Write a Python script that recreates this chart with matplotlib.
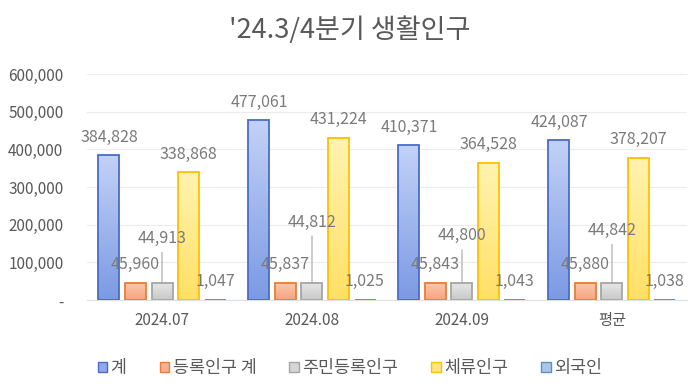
import matplotlib
matplotlib.use("Agg")
import matplotlib.pyplot as plt
import numpy as np
from matplotlib.colors import LinearSegmentedColormap
from matplotlib.patches import Patch

plt.rcParams['font.family'] = ['Noto Sans CJK KR', 'DejaVu Sans']

title = "'24.3/4분기 생활인구"
categories = ["2024.07", "2024.08", "2024.09", "평균"]
series_names = ["계", "등록인구 계", "주민등록인구", "체류인구", "외국인"]
total = [384828, 477061, 410371, 424087]
registered = [45960, 45837, 45843, 45880]
resident = [44913, 44812, 44800, 44842]
staying = [338868, 431224, 364528, 378207]
foreigner = [1047, 1025, 1043, 1038]
yticks = [0, 100000, 200000, 300000, 400000, 500000, 600000]
ytick_labels = ["-", "100,000", "200,000", "300,000", "400,000", "500,000", "600,000"]

series = [total, registered, resident, staying, foreigner]
# (top colour, bottom colour, edge colour)
styles = [
    ("#c2d1f6", "#7c9ae4", "#4a6cc4"),
    ("#fcc9b0", "#f6a47e", "#ed7d31"),
    ("#e6e6e6", "#c8c8c8", "#a5a5a5"),
    ("#fff3b0", "#ffe066", "#ffc000"),
    ("#bcd6f0", "#8db8e4", "#5b8fc9"),
]
legend_fill = ["#8fa9ec", "#f8b08e", "#d5d5d5", "#ffe680", "#a8c8ea"]
# lifted labels (points above bar top) for resident series with leader lines
resident_lift_pt = [32, 44, 34, 38]

fig = plt.figure(figsize=(7.0, 3.92), dpi=100)
ax = fig.add_axes([0.1243, 0.2347, 0.8571, 0.5765])

x = np.arange(len(categories))
step = 0.1767
width = 0.14
label_color = "#7a7a7a"

for i, (vals, (ctop, cbot, cedge)) in enumerate(zip(series, styles)):
    off = (i - 2) * step
    cmap = LinearSegmentedColormap.from_list(f"g{i}", [cbot, ctop])
    for j, v in enumerate(vals):
        x0 = x[j] + off - width / 2
        grad = np.linspace(0, 1, 64).reshape(-1, 1)
        ax.imshow(grad, cmap=cmap, origin='lower', aspect='auto',
                  extent=[x0, x0 + width, 0, v], zorder=2, interpolation='bilinear')
    ax.bar(x + off, vals, width=width, facecolor='none', edgecolor=cedge,
           linewidth=1.3, zorder=3)
    for j, v in enumerate(vals):
        xc = x[j] + off
        if i == 2:
            lift = resident_lift_pt[j]
            ax.annotate(f"{v:,}", xy=(xc, v), xytext=(0, lift), textcoords='offset points',
                        ha='center', va='center', fontsize=11.5, color=label_color, zorder=5)
            ax.annotate("", xy=(xc, v), xytext=(0, lift - 10), textcoords='offset points',
                        arrowprops=dict(arrowstyle='-', color='#a6a6a6', lw=0.8,
                                        shrinkA=0, shrinkB=0), zorder=4)
        else:
            ax.annotate(f"{v:,}", xy=(xc, v), xytext=(0, 13), textcoords='offset points',
                        ha='center', va='center', fontsize=11.5, color=label_color, zorder=5)

ax.set_xlim(-0.5, len(categories) - 0.5)
ax.set_ylim(0, 600000)
ax.set_yticks(yticks)
ax.set_yticklabels(ytick_labels)
ax.set_xticks(x)
ax.set_xticklabels(categories)
ax.tick_params(axis='y', length=0, pad=17, labelsize=11, labelcolor='#595959')
ax.tick_params(axis='x', length=0, pad=9, labelsize=11, labelcolor='#595959')
ax.grid(axis='y', color='#ececec', linewidth=0.8, zorder=0)
ax.set_axisbelow(True)
for s in ['top', 'right', 'left']:
    ax.spines[s].set_visible(False)
ax.spines['bottom'].set_color('#e0e0e0')
ax.spines['bottom'].set_linewidth(0.8)

fig.text(0.5, 1 - 30 / 392, title, ha='center', va='center', fontsize=19.5, color='#595959')

handles = [Patch(facecolor=f, edgecolor=s[2], linewidth=1.0) for f, s in zip(legend_fill, styles)]
fig.legend(handles, series_names, loc='center', bbox_to_anchor=(0.5, 1 - 368 / 392), ncol=5,
           frameon=False, fontsize=12.5, labelcolor='#595959', handlelength=0.55, handleheight=0.55,
           handletextpad=0.2, columnspacing=1.9)

fig.savefig("out.png", dpi=100, facecolor='white')
